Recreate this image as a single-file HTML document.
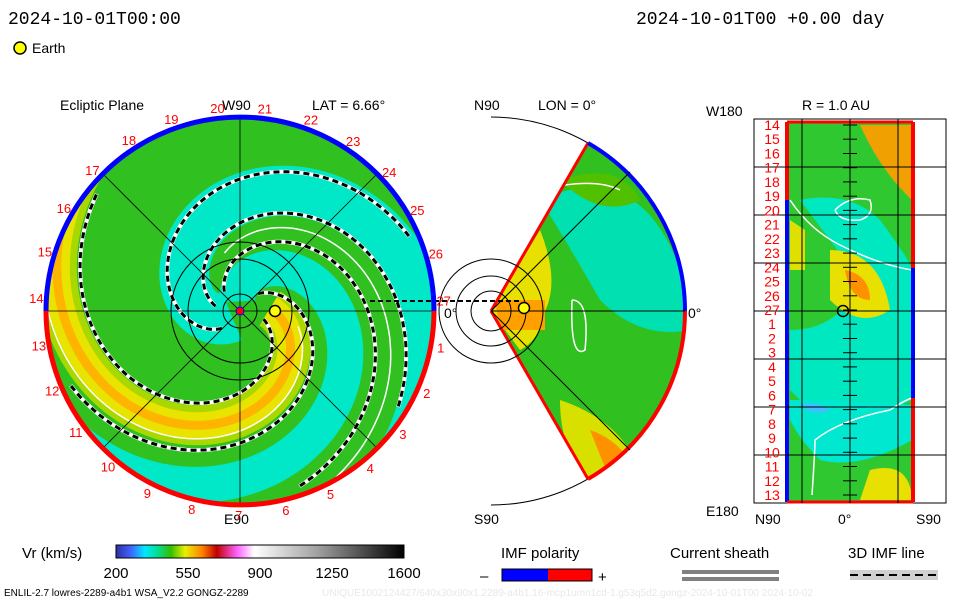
<!DOCTYPE html>
<html><head><meta charset="utf-8"><style>
body{margin:0;background:#fff;width:960px;height:600px;overflow:hidden;font-family:"Liberation Sans",sans-serif}
svg{position:absolute;left:0;top:0}
</style></head><body>
<svg id="s" width="960" height="600" viewBox="0 0 960 600">
<defs>
<clipPath id="cc"><circle cx="240" cy="311" r="194"/></clipPath>
<clipPath id="wc"><path d="M491,311 L588,143 A194,194 0 0 1 588,479 Z"/></clipPath>
<linearGradient id="cb" x1="0" x2="1" y1="0" y2="0">
<stop offset="0" stop-color="#3030a0"/><stop offset="0.05" stop-color="#4060ff"/><stop offset="0.1" stop-color="#00e8ff"/><stop offset="0.14" stop-color="#00e0a0"/><stop offset="0.19" stop-color="#30c000"/><stop offset="0.24" stop-color="#e8f000"/><stop offset="0.3" stop-color="#ff8000"/><stop offset="0.35" stop-color="#c00000"/><stop offset="0.42" stop-color="#ff60ff"/><stop offset="0.48" stop-color="#ffffff"/><stop offset="0.7" stop-color="#a0a0a0"/><stop offset="1" stop-color="#000"/>
</linearGradient>
</defs>
<g font-size="18" fill="#000" font-family="Liberation Mono, monospace">
<text x="8" y="24">2024-10-01T00:00</text>
<text x="636" y="24">2024-10-01T00 +0.00 day</text>
</g>
<circle cx="20" cy="48" r="6" fill="#ff0" stroke="#000" stroke-width="1.5"/>
<text x="32" y="53" font-size="14">Earth</text>
<g font-size="14">
<text x="60" y="110">Ecliptic Plane</text>
<text x="222" y="110">W90</text>
<text x="312" y="110">LAT = 6.66°</text>
<text x="224" y="524">E90</text>
<text x="474" y="110">N90</text>
<text x="538" y="110">LON = 0°</text>
<text x="474" y="524">S90</text>
<text x="444" y="318">0°</text>
<text x="688" y="318">0°</text>
<text x="706" y="116">W180</text>
<text x="802" y="110">R = 1.0 AU</text>
<text x="706" y="516">E180</text>
<text x="755" y="524">N90</text>
<text x="838" y="524">0°</text>
<text x="916" y="524">S90</text>
</g>
<g id="ecl" clip-path="url(#cc)">
<circle cx="240" cy="311" r="194" fill="#30c020"/>
</g>
<g id="mer">
<path d="M491,117 A194,194 0 0 1 491,505" fill="none" stroke="#000"/>
<g clip-path="url(#wc)">
<rect x="491" y="117" width="200" height="390" fill="#30c020"/>
<path d="M540,200 Q650,150 690,300 L690,330 Q640,340 600,300 Q560,230 540,200Z" fill="#00e0b0"/>
<path d="M560,180 Q620,160 640,200 Q600,220 560,180Z" fill="#50c000"/>
<path d="M491,311 L540,230 Q560,280 545,311 Q540,340 520,350Z" fill="#e8e000"/>
<path d="M495,300 L545,300 L545,330 L500,330Z" fill="#ffa000"/>
<path d="M560,400 Q620,420 640,470 L600,490 Q560,460 560,400Z" fill="#d8e000"/>
<path d="M590,430 Q620,440 635,470 L610,480Z" fill="#ff9000"/>
<path d="M565,185 Q600,180 620,190 M572,300 Q590,300 585,350 Q570,360 572,300" fill="none" stroke="#fff" stroke-width="1.5"/>
</g>
<line x1="491" y1="311" x2="588" y2="143" stroke="#f00" stroke-width="3"/>
<line x1="491" y1="311" x2="588" y2="479" stroke="#f00" stroke-width="3"/>
<path d="M588,143 A194,194 0 0 1 685,311" fill="none" stroke="#00f" stroke-width="4"/>
<path d="M685,311 A194,194 0 0 1 588,479" fill="none" stroke="#f00" stroke-width="4"/>
<line x1="491" y1="311" x2="685" y2="311" stroke="#000"/>
<line x1="491" y1="311" x2="630" y2="172" stroke="#000"/>
<line x1="491" y1="311" x2="630" y2="450" stroke="#000"/>
<circle cx="491" cy="311" r="20" fill="none" stroke="#000"/>
<circle cx="491" cy="311" r="35" fill="none" stroke="#000"/>
<circle cx="491" cy="311" r="52" fill="none" stroke="#000"/>
<line x1="434" y1="301" x2="520" y2="301" stroke="#000" stroke-width="2" stroke-dasharray="5 3"/>
<circle cx="524" cy="308" r="5.5" fill="#ff0" stroke="#000" stroke-width="1.5"/>
</g>
<g id="rp">
<rect x="754" y="119" width="192" height="384" fill="#fff" stroke="#000"/>
<rect x="786" y="122" width="128" height="380" fill="#30c830"/>
<path d="M800,200 Q850,190 880,220 Q910,260 912,270 L912,400 Q870,420 820,420 Q800,400 790,390 L790,330 Q840,330 860,280 Q830,240 800,200Z" fill="#00e8c0"/>
<path d="M790,400 Q850,400 912,405 L912,440 Q860,470 820,460 Q800,440 790,420Z" fill="#00e8d0"/>
<path d="M800,405 Q815,400 830,410 Q815,418 800,405Z" fill="#40c0ff"/>
<path d="M860,125 L912,125 L912,200 Q880,170 860,125Z" fill="#f0a000"/>
<path d="M830,250 Q880,250 890,310 Q860,330 830,300Z" fill="#e8e000"/>
<path d="M845,270 Q870,275 870,300 Q850,300 845,270Z" fill="#ff9000"/>
<path d="M870,470 Q910,460 912,500 L860,500Z" fill="#e8e000"/>
<path d="M790,220 L805,230 L805,270 L790,270Z" fill="#e0e000"/>
<path d="M790,200 Q810,230 840,245 Q880,265 912,270 M835,210 Q850,195 870,200 Q875,215 860,220 Q840,222 835,210 M812,495 Q815,450 815,440 Q840,420 890,410 Q905,400 912,398" fill="none" stroke="#fff" stroke-width="1.5"/>
<line x1="787" y1="122" x2="787" y2="502" stroke="#00f" stroke-width="4"/>
<line x1="787" y1="122" x2="787" y2="200" stroke="#f00" stroke-width="4"/>
<line x1="913" y1="122" x2="913" y2="268" stroke="#f00" stroke-width="4"/>
<line x1="913" y1="268" x2="913" y2="398" stroke="#00f" stroke-width="4"/>
<line x1="913" y1="398" x2="913" y2="502" stroke="#f00" stroke-width="4"/>
<line x1="787" y1="122" x2="913" y2="122" stroke="#f00" stroke-width="3"/>
<line x1="787" y1="502" x2="913" y2="502" stroke="#f00" stroke-width="3"/>
<g stroke="#000">
<line x1="802" y1="119" x2="802" y2="503"/><line x1="850" y1="119" x2="850" y2="503"/><line x1="898" y1="119" x2="898" y2="503"/>
<line x1="754" y1="167" x2="946" y2="167"/><line x1="754" y1="215" x2="946" y2="215"/><line x1="754" y1="263" x2="946" y2="263"/><line x1="754" y1="311" x2="946" y2="311"/><line x1="754" y1="359" x2="946" y2="359"/><line x1="754" y1="407" x2="946" y2="407"/><line x1="754" y1="455" x2="946" y2="455"/>
</g>
<circle cx="843" cy="311" r="5.5" fill="none" stroke="#000" stroke-width="1.5"/>
</g>
<g id="cbar">
<text x="22" y="558" font-size="15">Vr (km/s)</text>
<rect x="116" y="545" width="288" height="13" fill="url(#cb)" stroke="#000"/>
</g>
<g font-size="15">
<text x="501" y="558">IMF polarity</text>
<text x="480" y="581">–</text>
<rect x="502" y="569" width="46" height="12" fill="#00f"/>
<rect x="548" y="569" width="44" height="12" fill="#f00"/>
<rect x="502" y="569" width="90" height="12" fill="none" stroke="#000"/>
<text x="598" y="582">+</text>
<text x="670" y="558">Current sheath</text>
<rect x="682" y="570" width="97" height="4" fill="#808080"/>
<rect x="682" y="577" width="97" height="4" fill="#808080"/>
<text x="848" y="558">3D IMF line</text>
<rect x="850" y="570" width="88" height="10" fill="#d0d0d0"/>
<line x1="850" y1="575" x2="938" y2="575" stroke="#000" stroke-width="2" stroke-dasharray="8 5"/>
</g>
<text x="4" y="596" font-size="10">ENLIL-2.7 lowres-2289-a4b1 WSA_V2.2 GONGZ-2289</text>
<text x="322" y="596" font-size="10" fill="#e8e8e8">UNIQUE1002124427/640x30x90x1.2289-a4b1.16-mcp1umn1cd-1.g53q5d2.gongz-2024-10-01T00   2024-10-02</text>
</svg>
<script>
const NS="http://www.w3.org/2000/svg";
const cbTicks=[200,550,900,1250,1600];
const dayLabels=[14,15,16,17,18,19,20,21,22,23,24,25,26,27,1,2,3,4,5,6,7,8,9,10,11,12,13];
const ringLabels=[27,1,2,3,4,5,6,7,8,9,10,11,12,13,14,15,16,17,18,19,20,21,22,23,24,25,26];
const bandPhases=[130,240,-42,-42,-42];
const bandColors=["#00e8c8","#00e8c8","#a8d800","#e8e400","#ffb400"];
const bandWidths=[50,36,40,26,9];
const dashPhases=[-12,-75,105,160,200];
const CX=240,CY=311,R=194,K=1.25;
const s=document.getElementById('s');
function mk(t,a,p){const e=document.createElementNS(NS,t);for(const k in a)e.setAttribute(k,a[k]);(p||s).appendChild(e);return e;}
function spiral(th0,r0,r1){let d="";for(let r=r0;r<=r1;r+=2){const a=(th0+K*r)*Math.PI/180;d+=(d?"L":"M")+(CX+r*Math.cos(a)).toFixed(1)+","+(CY+r*Math.sin(a)).toFixed(1);}return d;}
const ecl=document.getElementById('ecl');
bandPhases.forEach((p,i)=>{
 const e=mk('path',{d:spiral(p,i>=2?30:10,260),fill:"none",stroke:bandColors[i],"stroke-width":bandWidths[i]},ecl);
 
 
});
dashPhases.forEach((p,i)=>{
 const d=spiral(p,25,185);
 mk('path',{d:d,fill:"none",stroke:"#fff","stroke-width":4},ecl);
 const e=mk('path',{d:d,fill:"none",stroke:"#000","stroke-width":3,"stroke-dasharray":"6 4"},ecl);
 
 
});
mk('path',{d:spiral(-60,60,250),fill:"none",stroke:"#fff","stroke-width":1.5},ecl);
mk('path',{d:spiral(180,60,250),fill:"none",stroke:"#fff","stroke-width":1.5},ecl);
[[46,311,434,311],[240,117,240,505],[103,174,377,448],[103,448,377,174]].forEach(l=>mk('line',{x1:l[0],y1:l[1],x2:l[2],y2:l[3],stroke:"#000","stroke-width":0.8},ecl));
[17,52,69].forEach(r=>mk('circle',{cx:CX,cy:CY,r:r,fill:"none",stroke:"#000"},ecl));
mk('line',{x1:370,y1:301,x2:434,y2:301,stroke:"#000","stroke-width":2,"stroke-dasharray":"5 3"});
mk('path',{d:"M46,311 A194,194 0 0 1 434,311",fill:"none",stroke:"#00f","stroke-width":5});
mk('path',{d:"M434,311 A194,194 0 0 1 46,311",fill:"none",stroke:"#f00","stroke-width":5});
mk('circle',{cx:240,cy:311,r:4,fill:"#f00",stroke:"#00f"});
const em=mk('circle',{cx:275,cy:311,r:5.5,fill:"#ff0",stroke:"#000","stroke-width":1.5});


ringLabels.forEach((v,i)=>{
 const a=(-3+i*360/27)*Math.PI/180;
 const t=mk('text',{x:(CX+204*Math.cos(a)).toFixed(1),y:(CY+204*Math.sin(a)+5).toFixed(1),"text-anchor":"middle","font-size":13,fill:"#f00"});
 t.textContent=v;
 
 
});
dayLabels.forEach((v,i)=>{
 const y=125+i*(370/26);
 const t=mk('text',{x:772,y:(y+5).toFixed(1),"text-anchor":"middle","font-size":14,fill:"#f00"});
 t.textContent=v;
 
 
 mk('line',{x1:843,y1:y.toFixed(1),x2:857,y2:y.toFixed(1),stroke:"#000"});
});
cbTicks.forEach(v=>{
 const x=116+(v-200)/(1600-200)*288;
 const t=mk('text',{x:x.toFixed(1),y:578,"text-anchor":"middle","font-size":15});
 t.textContent=v;
 
 
});
</script>
</body></html>
